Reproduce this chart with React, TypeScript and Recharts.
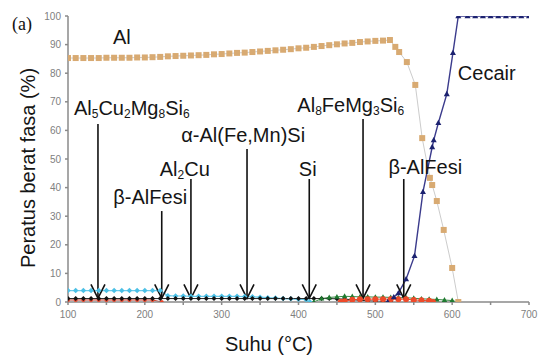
import React from "react"
import {
    ComposedChart,
    Line,
    XAxis,
    YAxis,
    ReferenceLine,
    ReferenceDot,
} from "recharts"

// [suhu (°C), peratus berat fasa (%)]
const alPoints: [number, number][] = [
    [100, 85.3], [110, 85.3], [120, 85.3], [130, 85.3], [140, 85.3], [150, 85.4],
    [160, 85.4], [170, 85.4], [180, 85.4], [190, 85.5], [200, 85.5], [210, 85.6],
    [220, 85.7], [230, 85.9], [240, 86.0], [250, 86.1], [260, 86.2], [270, 86.3],
    [280, 86.4], [290, 86.6], [300, 86.7], [310, 86.9], [320, 87.1], [330, 87.2],
    [340, 87.4], [350, 87.6], [360, 87.8], [370, 88.0], [380, 88.2], [390, 88.4],
    [400, 88.7], [410, 88.9], [420, 89.2], [430, 89.5], [440, 89.8], [450, 90.1],
    [460, 90.4], [470, 90.6], [480, 90.9], [490, 91.1], [500, 91.3], [510, 91.4],
    [519, 91.6], [526, 89.2], [531, 87.4], [541, 83.9], [552, 75.9], [561, 57.3],
    [571, 43.4], [574, 40.9], [580, 35.3], [589, 25.2], [600, 11.9], [608, 0],
]

const cecairPoints: [number, number][] = [
    [516, 0], [524, 1.7], [530, 3.1], [540, 8.0], [551, 16.1], [562, 38.5],
    [574, 54.2], [576, 56.6], [582, 62.6], [593, 72.7], [601, 87.1], [608, 100],
    [620, 100], [630, 100], [640, 100], [650, 100], [660, 100], [670, 100],
    [680, 100], [690, 100], [700, 100],
]

const cyanPoints: [number, number][] = [
    [100, 4.0], [110, 4.0], [120, 4.0], [130, 4.0], [140, 4.0], [150, 4.0],
    [160, 4.0], [170, 4.0], [180, 4.0], [190, 4.0], [200, 4.0], [210, 4.0],
    [220, 4.0], [230, 2.2], [240, 2.1], [250, 2.1], [260, 2.0], [270, 2.0],
    [280, 2.0], [290, 2.0], [300, 2.0], [310, 2.0], [320, 2.0], [330, 1.9],
    [340, 1.8], [350, 1.7], [360, 1.5], [370, 1.4], [380, 1.2], [390, 1.1],
    [400, 1.0], [410, 0.8], [415, 0],
]

const blackPoints: [number, number][] = [
    [100, 1.2], [110, 1.2], [120, 1.2], [130, 1.2], [140, 1.2], [150, 1.2],
    [160, 1.2], [170, 1.2], [180, 1.2], [190, 1.2], [200, 1.2], [210, 1.2],
    [220, 1.2], [230, 1.2], [240, 1.2], [250, 1.2], [260, 1.2], [270, 1.2],
    [280, 1.2], [290, 1.2], [300, 1.2], [310, 1.2], [320, 1.2], [330, 1.2],
    [340, 1.2], [350, 1.2], [360, 1.2], [370, 1.2], [380, 1.2], [390, 1.2],
    [400, 1.2], [410, 1.2], [420, 1.2], [430, 1.2], [440, 1.2], [450, 1.1],
    [460, 1.0], [470, 0.8], [480, 0.6], [490, 0.4], [500, 0.3], [510, 0.2],
    [520, 0],
]

const redLowPoints: [number, number][] = [
    [100, 0.7], [110, 0.7], [120, 0.7], [130, 0.7], [140, 0.7], [150, 0.7],
    [160, 0.7], [170, 0.7], [180, 0.7], [190, 0.7], [200, 0.7], [210, 0.7],
    [222, 0],
]

const redHighPoints: [number, number][] = [
    [455, 0], [460, 0.3], [470, 0.8], [480, 1.0], [490, 1.0], [500, 1.0],
    [510, 1.0], [520, 1.0], [530, 1.0], [540, 1.0], [550, 0.7], [560, 0.6],
    [570, 0.4], [575, 0],
]

const greenPoints: [number, number][] = [
    [420, 0], [430, 1.2], [440, 1.6], [450, 1.8], [460, 2.0], [470, 1.9],
    [480, 1.8], [490, 1.8], [500, 1.7], [510, 1.7], [520, 1.6], [530, 1.5],
    [540, 1.5], [550, 1.3], [560, 1.1], [570, 1.0], [580, 0.9], [590, 0.7],
    [600, 0.5], [607, 0],
]

// arrows: phase name, suhu of arrow, top of the arrow, label anchor (centre, baseline)
const arrowPhases = [
    { name: "Al5Cu2Mg8Si6", t: 139, top: 62.2, labelT: 183, labelV: 65.4 },
    { name: "β-AlFesi", t: 222, top: 31.8, labelT: 207, labelV: 34.3 },
    { name: "Al2Cu", t: 260, top: 43, labelT: 252, labelV: 44 },
    { name: "α-Al(Fe,Mn)Si", t: 333, top: 53.5, labelT: 328, labelV: 56 },
    { name: "Si", t: 414, top: 43, labelT: 412, labelV: 44 },
    { name: "Al8FeMg3Si6", t: 484, top: 64, labelT: 468, labelV: 66.4 },
    { name: "β-AlFesi", t: 537, top: 43, labelT: 565, labelV: 44.8 },
]
const arrowTip = 1.3

const curveLabels = [
    { name: "Al", t: 170, v: 90.2 },
    { name: "Cecair", t: 645, v: 77.6 },
]

const xTicks = [100, 150, 200, 250, 300, 350, 400, 450, 500, 550, 600, 650, 700]
const yTicks = [0, 5, 10, 15, 20, 25, 30, 35, 40, 45, 50, 55, 60, 65, 70, 75, 80, 85, 90, 95, 100]

const toRows = (pts: [number, number][]) => pts.map(([t, v]) => ({ t, v }))

const FONT = "'Liberation Sans', Arial, sans-serif"

function PhaseText({ text, x, y }: { text: string; x: number; y: number }) {
    const parts = text.split(/(\d+)/).filter((s) => s.length > 0)
    let shifted = false
    return (
        <text x={x} y={y} textAnchor="middle" fontFamily={FONT} fontSize={20} fill="#151515">
            {parts.map((p, i) => {
                const isSub = /^\d+$/.test(p)
                let dy = 0
                if (isSub && !shifted) { dy = 3; shifted = true }
                if (!isSub && shifted) { dy = -3; shifted = false }
                return (
                    <tspan key={i} dy={dy} fontSize={isSub ? 12 : 20}>
                        {p}
                    </tspan>
                )
            })}
        </text>
    )
}

const squareDot = (color: string, size: number) => (p: any) => {
    if (p.cx == null || p.cy == null) return <g key={p.index} />
    return <rect key={p.index} x={p.cx - size / 2} y={p.cy - size / 2} width={size} height={size} fill={color} />
}

const triangleDot = (color: string, size: number) => (p: any) => {
    if (p.cx == null || p.cy == null) return <g key={p.index} />
    const h = size * 0.9
    return (
        <polygon
            key={p.index}
            points={`${p.cx},${p.cy - h * 0.6} ${p.cx - size / 2},${p.cy + h * 0.4} ${p.cx + size / 2},${p.cy + h * 0.4}`}
            fill={color}
        />
    )
}

const diamondDot = (color: string, size: number) => (p: any) => {
    if (p.cx == null || p.cy == null) return <g key={p.index} />
    const s = size / 2
    return (
        <polygon
            key={p.index}
            points={`${p.cx},${p.cy - s} ${p.cx + s},${p.cy} ${p.cx},${p.cy + s} ${p.cx - s},${p.cy}`}
            fill={color}
        />
    )
}

const circleDot = (color: string, r: number) => (p: any) => {
    if (p.cx == null || p.cy == null) return <g key={p.index} />
    return <circle key={p.index} cx={p.cx} cy={p.cy} r={r} fill={color} />
}

const arrowShape = (p: any) => {
    const { x1, y1, y2 } = p
    return (
        <g>
            <line x1={x1} y1={y1} x2={x1} y2={y2} stroke="#111" strokeWidth={1.6} />
            <polyline
                points={`${x1 - 7},${y2 - 14} ${x1},${y2} ${x1 + 7},${y2 - 14}`}
                fill="none"
                stroke="#111"
                strokeWidth={1.6}
            />
        </g>
    )
}

const xTick = (p: any) => {
    const v = p.payload.value
    if (v % 100 !== 0) return <g />
    return (
        <text x={p.x} y={p.y} dy={8} textAnchor="middle" fontFamily={FONT} fontSize={10} fill="#808080">
            {v}
        </text>
    )
}

const yTick = (p: any) => {
    const v = p.payload.value
    if (v % 10 !== 0) return <g />
    return (
        <text x={p.x} y={p.y} dy={3.5} textAnchor="end" fontFamily={FONT} fontSize={10} fill="#808080">
            {v}
        </text>
    )
}

export default function App() {
    return (
        <div style={{ position: "absolute", left: 0, top: 0, width: 544, height: 359, background: "#fff" }}>
            <ComposedChart width={544} height={359} margin={{ top: 16, right: 15, left: 28, bottom: 27 }}>
                <XAxis
                    type="number"
                    dataKey="t"
                    domain={[100, 700]}
                    ticks={xTicks}
                    allowDataOverflow
                    height={30}
                    tick={xTick}
                    tickSize={3}
                    tickMargin={5}
                    stroke="#8a8a8a"
                    strokeWidth={1.5}
                />
                <YAxis
                    type="number"
                    domain={[0, 100]}
                    ticks={yTicks}
                    allowDataOverflow
                    width={40}
                    tick={yTick}
                    tickSize={3}
                    tickMargin={4}
                    stroke="#8a8a8a"
                    strokeWidth={1.5}
                />
                <Line data={toRows(cyanPoints)} dataKey="v" stroke="#6ccbea" strokeWidth={1.2} dot={diamondDot("#4cc0e6", 5.5)} isAnimationActive={false} />
                <Line data={toRows(redLowPoints)} dataKey="v" stroke="#c0392b" strokeWidth={1} dot={circleDot("#e8452c", 2)} isAnimationActive={false} />
                <Line data={toRows(blackPoints)} dataKey="v" stroke="#222" strokeWidth={1} dot={diamondDot("#111", 5)} isAnimationActive={false} />
                <Line data={toRows(greenPoints)} dataKey="v" stroke="#3a8a45" strokeWidth={1} dot={triangleDot("#1f7a30", 5.5)} isAnimationActive={false} />
                <Line data={toRows(redHighPoints)} dataKey="v" stroke="#e8452c" strokeWidth={1} dot={circleDot("#ee4a2a", 3)} isAnimationActive={false} />
                <Line data={toRows(alPoints)} dataKey="v" stroke="#cccccc" strokeWidth={1} dot={squareDot("#d8aa72", 6)} isAnimationActive={false} />
                <Line data={toRows(cecairPoints)} dataKey="v" stroke="#3b3b8c" strokeWidth={1.4} dot={triangleDot("#1c2270", 6)} isAnimationActive={false} />
                {arrowPhases.map((a, i) => (
                    <ReferenceLine
                        key={`arrow-${i}`}
                        segment={[{ x: a.t, y: a.top }, { x: a.t, y: arrowTip }]}
                        shape={arrowShape}
                    />
                ))}
                {arrowPhases.map((a, i) => (
                    <ReferenceDot
                        key={`label-${i}`}
                        x={a.labelT}
                        y={a.labelV}
                        r={0}
                        shape={(p: any) => <PhaseText text={a.name} x={p.cx} y={p.cy} />}
                    />
                ))}
                {curveLabels.map((c, i) => (
                    <ReferenceDot
                        key={`curve-${i}`}
                        x={c.t}
                        y={c.v}
                        r={0}
                        shape={(p: any) => <PhaseText text={c.name} x={p.cx} y={p.cy} />}
                    />
                ))}
            </ComposedChart>
            <svg width={544} height={359} style={{ position: "absolute", left: 0, top: 0, pointerEvents: "none" }}>
                <text x={12} y={30} fontFamily="'Liberation Serif', 'Times New Roman', serif" fontSize={18} fill="#111">
                    (a)
                </text>
                <text
                    transform="translate(35,168) rotate(-90)"
                    textAnchor="middle"
                    fontFamily={FONT}
                    fontSize={20}
                    fill="#151515"
                >
                    Peratus berat fasa (%)
                </text>
                <text x={269} y={351} textAnchor="middle" fontFamily={FONT} fontSize={20} fill="#151515">
                    Suhu (°C)
                </text>
            </svg>
        </div>
    )
}
